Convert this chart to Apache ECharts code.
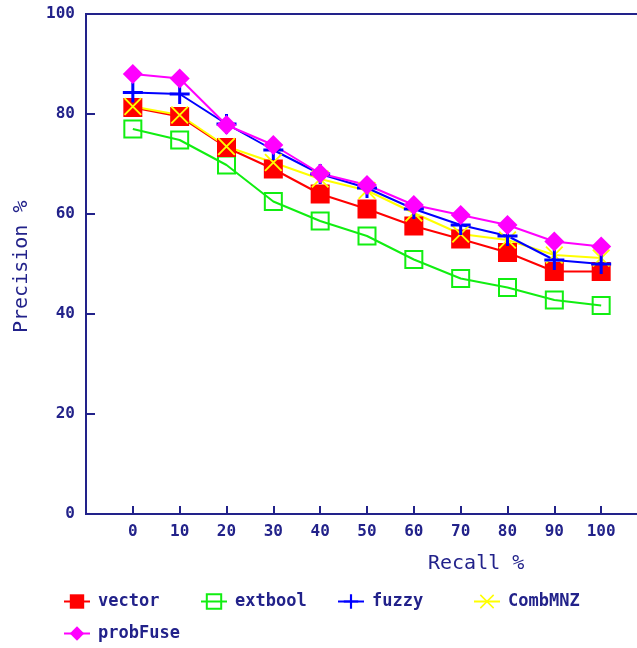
<!DOCTYPE html>
<html>
<head>
<meta charset="utf-8">
<script src="https://cdn.jsdelivr.net/npm/echarts@6/dist/echarts.min.js"></script>
<style>
  html, body { margin: 0; padding: 0; background: #ffffff; }
  #chart { width: 637px; height: 648px; }
</style>
</head>
<body>
<div id="chart"></div>
<script>
// Recall levels (x axis) and precision values for each retrieval method
const recall   = [0, 10, 20, 30, 40, 50, 60, 70, 80, 90, 100];
const vector   = [81.3, 79.5, 73.3, 69.0, 64.0, 61.0, 57.6, 55.0, 52.3, 48.5, 48.5];
const extbool  = [77.0, 74.8, 69.8, 62.5, 58.6, 55.6, 50.9, 47.1, 45.3, 42.8, 41.7];
const fuzzy    = [84.3, 84.0, 78.0, 72.8, 68.0, 65.2, 61.0, 57.8, 55.6, 50.8, 50.0];
const combMNZ  = [81.5, 79.8, 73.5, 70.3, 67.0, 64.7, 60.2, 56.0, 54.8, 51.8, 51.2];
const probFuse = [88.0, 87.1, 77.8, 73.8, 68.1, 65.8, 61.8, 59.8, 57.8, 54.5, 53.5];
const yTicks   = [0, 20, 40, 60, 80, 100];

const NAVY = '#22228a';
const MONO = '"DejaVu Sans Mono", "Liberation Mono", monospace';

const PLUS  = 'path://M0,8.5 L20,8.5 L20,11.5 L0,11.5 Z M8.5,0 L11.5,0 L11.5,20 L8.5,20 Z';
const CROSS = 'path://M0,1.5 L1.5,0 L20,18.5 L18.5,20 Z M18.5,0 L20,1.5 L1.5,20 L0,18.5 Z';

function pairs(vals) { return recall.map((r, i) => [r, vals[i]]); }

function makeSeries(name, vals, color, symbol, size, itemStyle) {
  return {
    name, type: 'line', data: pairs(vals),
    symbol, symbolSize: size, color,
    lineStyle: { color, width: 2 },
    itemStyle: Object.assign({ color, borderWidth: 0 }, itemStyle || {}),
    emphasis: { disabled: true },
    animation: false
  };
}

const legendSpec = [
  { name: 'vector',   left: 63,  top: 593 },
  { name: 'extbool',  left: 200, top: 593 },
  { name: 'fuzzy',    left: 337, top: 593 },
  { name: 'CombMNZ',  left: 473, top: 593 },
  { name: 'probFuse', left: 63,  top: 625 }
];

const chart = echarts.init(document.getElementById('chart'), null, { renderer: 'canvas' });

chart.setOption({
  backgroundColor: '#ffffff',
  animation: false,
  grid: {
    left: 86, top: 14, width: 562, height: 500,
    containLabel: false, outerBoundsMode: 'none',
    show: true, borderColor: NAVY, borderWidth: 2, backgroundColor: 'transparent'
  },
  xAxis: {
    type: 'value', min: -10, max: 110, interval: 10,
    axisLine: { show: true, onZero: false, lineStyle: { color: NAVY, width: 2 } },
    axisTick: { show: true, inside: true, length: 8, lineStyle: { color: NAVY, width: 2 } },
    splitLine: { show: false },
    axisLabel: {
      color: NAVY, fontFamily: MONO, fontWeight: 'bold', fontSize: 16, margin: 10,
      formatter: v => (recall.indexOf(v) >= 0 ? String(v) : '')
    }
  },
  yAxis: {
    type: 'value', min: 0, max: 100, interval: 20,
    axisLine: { show: true, onZero: false, lineStyle: { color: NAVY, width: 2 } },
    axisTick: { show: true, inside: true, length: 9, lineStyle: { color: NAVY, width: 2 } },
    splitLine: { show: false },
    axisLabel: {
      color: NAVY, fontFamily: MONO, fontWeight: 'bold', fontSize: 16, margin: 11,
      formatter: v => (yTicks.indexOf(v) >= 0 ? String(v) : '')
    }
  },
  legend: legendSpec.map(l => ({
    data: [l.name], left: l.left, top: l.top,
    itemWidth: 26, itemHeight: 18, padding: 0,
    selectedMode: false,
    textStyle: { color: NAVY, fontFamily: MONO, fontWeight: 'bold', fontSize: 17, padding: [0, 0, 0, 3] }
  })),
  graphic: [
    {
      type: 'text', left: 428, top: 554,
      style: { text: 'Recall %', fill: NAVY, font: '20px ' + MONO }
    },
    {
      type: 'text', x: 12, y: 333, rotation: Math.PI / 2,
      style: { text: 'Precision %', fill: NAVY, font: '20px ' + MONO }
    }
  ],
  series: [
    makeSeries('extbool', extbool, '#11ee11', 'rect', 17,
      { color: 'rgba(255,255,255,0)', borderColor: '#11ee11', borderWidth: 2 }),
    makeSeries('vector', vector, '#ff0000', 'rect', 19),
    makeSeries('CombMNZ', combMNZ, '#ffff00', CROSS, 18),
    makeSeries('fuzzy', fuzzy, '#0000ff', PLUS, 20),
    makeSeries('probFuse', probFuse, '#ff00ff', 'diamond', 20)
  ]
});
</script>
</body>
</html>
